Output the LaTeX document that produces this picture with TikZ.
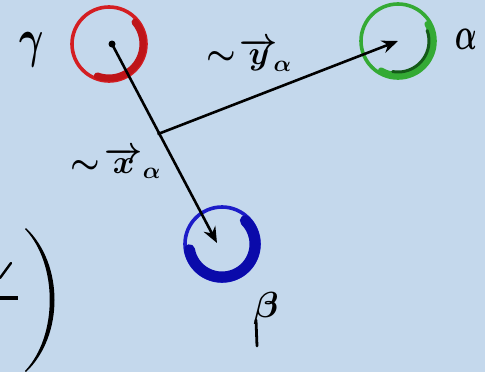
\documentclass[tikz,border=0pt]{standalone}
\usetikzlibrary{arrows.meta,calc}
\definecolor{bgc}{RGB}{196,216,236}
\definecolor{redc}{RGB}{212,30,34}
\definecolor{redd}{RGB}{190,20,24}
\definecolor{grnc}{RGB}{52,170,52}
\definecolor{grnd}{RGB}{20,90,24}
\definecolor{bluc}{RGB}{28,28,200}
\definecolor{blud}{RGB}{10,10,170}
\begin{document}
\begin{tikzpicture}[x=1pt,y=1pt,
  ring/.style={circle,inner sep=0pt,minimum size=74pt,line width=3.6pt},
  vec/.style={line width=2.6pt,line cap=round,-{Stealth[length=16pt,width=13pt]}},
  lbl/.style={inner sep=0pt,font=\huge\boldmath},
  dotc/.style={circle,fill=black,inner sep=0pt,minimum size=#1}]
\fill[bgc] (0,0) rectangle (485,-372);
\useasboundingbox (0,0) rectangle (485,-372);
% circles
\node[ring,draw=redc] (gam) at (109,-44) {};
\node[ring,draw=grnc] (alp) at (398,-41) {};
\node[ring,draw=bluc] (bet) at (222,-244) {};
\draw[redd,line width=7pt,line cap=round] ($(gam.center)+(-110:34)$) arc[start angle=-110,end angle=40,radius=34];
\draw[grnc,line width=6pt,line cap=round] ($(alp.center)+(-120:34)$) arc[start angle=-120,end angle=30,radius=34];
\draw[grnd,line width=3pt,line cap=round] ($(alp.center)+(-100:31)$) arc[start angle=-100,end angle=20,radius=31];
\draw[blud,line width=11pt,line cap=round] ($(bet.center)+(-170:33)$) arc[start angle=-170,end angle=45,radius=33];
% vectors
\coordinate (gdot) at (112,-44);
\coordinate (btip) at (217,-243);
\coordinate (atip) at (398,-41);
\coordinate (junc) at ($(gdot)!0.45!(btip)$);
\node[dotc=7pt] (gd) at (gdot) {};
\draw[vec] (gdot) -- (btip);
\draw[vec] (junc) -- (atip);
\node[dotc=4pt] (jd) at (junc) {};
% labels
\node[lbl,xscale=1.8,yscale=2.6] (lg) at (32,-50) {$\gamma$};
\node[lbl,xscale=1.4,yscale=2.2] (la) at (466,-39) {$\alpha$};
\node[lbl,scale=1.75] (lb) at (266,-308) {$\beta$};
\draw[line width=2.8pt,line cap=round] (256,-320) coordinate (bs) -- (257,-346) coordinate (be);
\node[lbl,scale=1.6] (ly) at (249,-55) {$\sim\!\overrightarrow{y}_{\!\alpha}$};
\node[lbl,scale=1.6] (lx) at (116,-163) {$\sim\!\overrightarrow{x}_{\alpha}$};
% formula fragment at the lower left
\draw[line width=2.4pt,line cap=round] (11,-263) -- (0,-278);
\draw[line width=3.6pt] (0,-298) -- (18,-298);
\fill (26,-228) .. controls (64,-264) and (64,-336) .. (26,-372) -- (25,-371) .. controls (58,-336) and (58,-264) .. (25,-229) -- cycle;
\end{tikzpicture}
\end{document}
